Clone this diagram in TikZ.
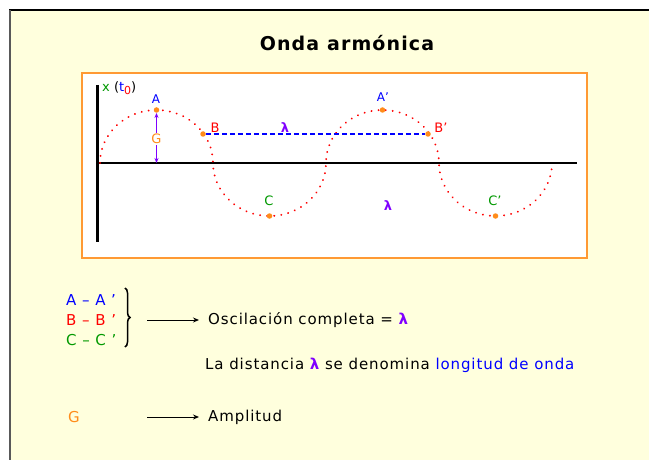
\documentclass[tikz,border=0pt]{standalone}
\usepackage{fontspec}
\setmainfont{DejaVu Sans}
\usetikzlibrary{arrows.meta,decorations.pathreplacing}
\definecolor{creamBg}{HTML}{FFFFDD}
\definecolor{frameO}{HTML}{FF9933}
\definecolor{dotO}{HTML}{FF8C1A}
\definecolor{lamP}{HTML}{8000FF}
\definecolor{ptBlue}{HTML}{0000FF}
\definecolor{ptRed}{HTML}{FF0000}
\definecolor{ptGreen}{HTML}{009900}

\begin{document}
\begin{tikzpicture}[
    x=1pt, y=-1pt,
    lbl/.style={font=\fontsize{13}{13}\selectfont, inner sep=0pt},
    txt/.style={font=\fontsize{15}{15}\selectfont\addfontfeature{LetterSpace=6}, anchor=west, inner sep=0pt},
    ptdot/.style={circle, fill=dotO, inner sep=0pt, minimum size=5.5pt},
    wave/.style={ptRed, line width=2pt, dash pattern=on 0.1pt off 7pt, line cap=round},
    conn/.style={line width=1pt, -{Stealth[length=6pt,width=5pt]}}
]
\useasboundingbox (0,0) rectangle (649,460);
\fill[creamBg] (10,10) rectangle (649,460);
\draw[black, line width=2pt] (9,10) -- (649,10);
\draw[gray!70!black, line width=1.5pt] (10,10) -- (10,460);
\node (title) [font=\bfseries\fontsize{19}{19}\selectfont\addfontfeature{LetterSpace=6}] at (347,43) {Onda armónica};

% graph box
\draw[frameO, fill=white, line width=1.5pt] (82,73) rectangle (587,258);
\coordinate (ytop) at (97,85);
\coordinate (ybot) at (97,242);
\coordinate (orig) at (97,163);
\coordinate (xend) at (577,163);
\draw[line width=3pt] (ytop) -- (ybot);
\draw[line width=1.5pt] (orig) -- (xend);
\node[lbl, anchor=west] (xlab) at (102,88) {\textcolor{ptGreen}{x} (\textcolor{ptBlue}{t}\textcolor{ptRed}{\raisebox{-3pt}{\fontsize{11}{11}\selectfont 0}})};

% the wave
\draw[wave] (100,163)
    arc[start angle=180, end angle=360, x radius=56.5, y radius=53]
    arc[start angle=180, end angle=0, x radius=56.5, y radius=53]
    arc[start angle=180, end angle=360, x radius=56.5, y radius=53]
    arc[start angle=180, end angle=0, x radius=56.5, y radius=53];

\node[ptdot] (A) at (156.5,110) {};
\node[ptdot] (C) at (269.5,216) {};
\node[ptdot] (A2) at (382.5,110) {};
\node[ptdot] (C2) at (495.5,216) {};
\node[ptdot] (B) at (203,134) {};
\node[ptdot] (B2) at (428,134) {};
\coordinate (Abase) at (156.5,163);

\draw[ptBlue, line width=1.2pt, dash pattern=on 5pt off 3pt] (B) -- (B2);
\draw[lamP, line width=1pt, {Stealth[length=5pt,width=4pt]}-{Stealth[length=5pt,width=4pt]}] (A) -- (Abase);

\node[lbl, ptBlue, font=\fontsize{12}{12}\selectfont] (Alab) at (156,99) {A};
\node[lbl, ptBlue, font=\fontsize{12}{12}\selectfont] (A2lab) at (383,97) {A'};
\node[lbl, ptRed] (Blab) at (215,128) {B};
\node[lbl, ptRed] (B2lab) at (441,128) {B'};
\node[lbl, lamP, font=\bfseries\fontsize{13}{13}\selectfont] (lam1) at (285,128) {λ};
\node[lbl, ptGreen] (Clab) at (269,201) {C};
\node[lbl, ptGreen] (C2lab) at (495,201) {C'};
\node[lbl, lamP, font=\bfseries\fontsize{13}{13}\selectfont] (lam2) at (388,206) {λ};
\node[lbl, dotO, fill=white, inner sep=1pt] (Glab) at (156.5,139) {G};

% legend
\node[txt, ptBlue] (AA) at (66,300) {A – A '};
\node[txt, ptRed] (BB) at (66,320) {B – B '};
\node[txt, ptGreen] (CC) at (66,340) {C – C '};
\draw[line width=1.5pt, decorate, decoration={brace, amplitude=5pt}] (125,288) -- (125,347);
\coordinate (brTip) at (147,320);
\node[txt] (osc) at (208,320) {Oscilación completa = \textcolor{lamP}{\bfseries λ}};
\draw[conn] (brTip) -- ([xshift=-9pt]osc.west);
\node[txt] (dist) at (205,365) {La distancia \textcolor{lamP}{\bfseries λ} se denomina \textcolor{ptBlue}{longitud de onda}};
\node[txt, dotO] (Gleg) at (68,417) {G};
\coordinate (gTail) at (147,417);
\node[txt] (ampl) at (208,417) {Amplitud};
\draw[conn] (gTail) -- ([xshift=-9pt]ampl.west);
\end{tikzpicture}
\end{document}
